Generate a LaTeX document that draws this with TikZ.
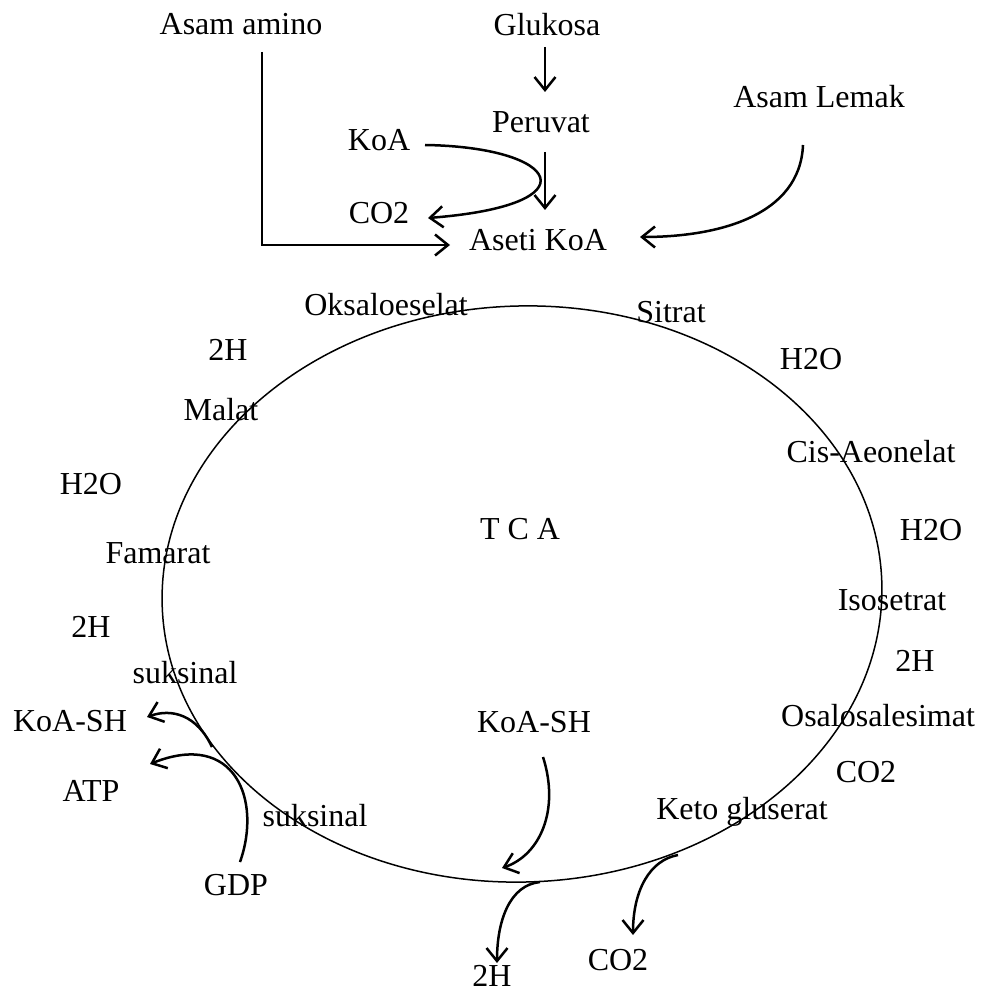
\documentclass[tikz,border=0pt]{standalone}
\usepackage{fontspec}
\setmainfont{Liberation Serif}
\usetikzlibrary{arrows.meta}
\begin{document}
\begin{tikzpicture}[x=1pt,y=1pt,
  lbl/.style={font=\fontsize{32}{38}\selectfont, inner sep=0pt},
  arr/.style={line width=2.5pt, -{Straight Barb[length=13pt,width=21pt]}},
  ring/.style={line width=1.5pt}]
\useasboundingbox (0,0) rectangle (983,-992);
% labels
\node[lbl] (amino) at (241,-24) {Asam amino};
\node[lbl] (glukosa) at (547,-25) {Glukosa};
\node[lbl] (peruvat) at (541,-122) {Peruvat};
\node[lbl] (lemak) at (819,-97) {Asam Lemak};
\node[lbl] (koa) at (379,-140) {KoA};
\node[lbl] (co2a) at (379,-213) {CO2};
\node[lbl] (aseti) at (538,-240) {Aseti KoA};
\node[lbl] (oksalo) at (386,-305) {Oksaloeselat};
\node[lbl] (sitrat) at (671,-312) {Sitrat};
\node[lbl] (h2a) at (228,-350) {2H};
\node[lbl] (h2oa) at (811,-359) {H2O};
\node[lbl] (malat) at (221,-410) {Malat};
\node[lbl] (cis) at (871,-452) {Cis-Aeonelat};
\node[lbl] (h2ob) at (91,-484) {H2O};
\node[lbl] (tca) at (520,-529) {T C A};
\node[lbl] (h2oc) at (931,-530) {H2O};
\node[lbl] (famarat) at (158,-553) {Famarat};
\node[lbl] (isosetrat) at (892,-600) {Isosetrat};
\node[lbl] (h2b) at (91,-627) {2H};
\node[lbl] (h2c) at (915,-661) {2H};
\node[lbl] (suksa) at (185,-673) {suksinal};
\node[lbl] (koashl) at (70,-721) {KoA-SH};
\node[lbl] (koashc) at (534,-722) {KoA-SH};
\node[lbl] (osalo) at (878,-716) {Osalosalesimat};
\node[lbl] (atp) at (91,-791) {ATP};
\node[lbl] (co2b) at (866,-772) {CO2};
\node[lbl] (suksb) at (315,-816) {suksinal};
\node[lbl] (keto) at (742,-812) {Keto gluserat};
\node[lbl] (gdp) at (236,-885) {GDP};
\node[lbl] (co2c) at (618,-960) {CO2};
\node[lbl] (h2d) at (492,-976) {2H};
% cycle
\draw[ring, rotate around={2:(522,-594)}] (522,-594) ellipse [x radius=360pt, y radius=288pt];
% connector end points
\coordinate (gs) at (545,-47);   \coordinate (ge) at (545,-92);
\coordinate (ps) at (545,-152);  \coordinate (pe) at (545,-210);
\coordinate (ks) at (425,-145);  \coordinate (ke) at (428,-218);
\coordinate (as) at (262,-52);   \coordinate (ae) at (450,-245);
\coordinate (ls) at (803,-145);  \coordinate (le) at (640,-237);
\coordinate (gds) at (240,-862); \coordinate (gde) at (150,-764);
\coordinate (kls) at (212,-747); \coordinate (kle) at (147,-717);
\coordinate (kcs) at (543,-757); \coordinate (kce) at (502,-868);
\coordinate (hs) at (540,-882);  \coordinate (he) at (497,-963);
\coordinate (cs) at (678,-855);  \coordinate (ce) at (633,-935);
% connectors
\draw[arr] (gs) -- (ge);
\draw[arr] (ps) -- (pe);
\draw[arr] (ks) .. controls (560,-147) and (595,-205) .. (ke);
\draw[arr] (as) |- (ae);
\draw[arr] (ls) .. controls (800,-215) and (720,-237) .. (le);
\draw[arr] (gds) .. controls (262,-800) and (235,-730) .. (gde);
\draw[arr] (kls) .. controls (197,-715) and (172,-708) .. (kle);
\draw[arr] (kcs) .. controls (560,-810) and (540,-855) .. (kce);
\draw[arr] (hs) .. controls (510,-885) and (497,-920) .. (he);
\draw[arr] (cs) .. controls (650,-860) and (633,-890) .. (ce);
\end{tikzpicture}
\end{document}
